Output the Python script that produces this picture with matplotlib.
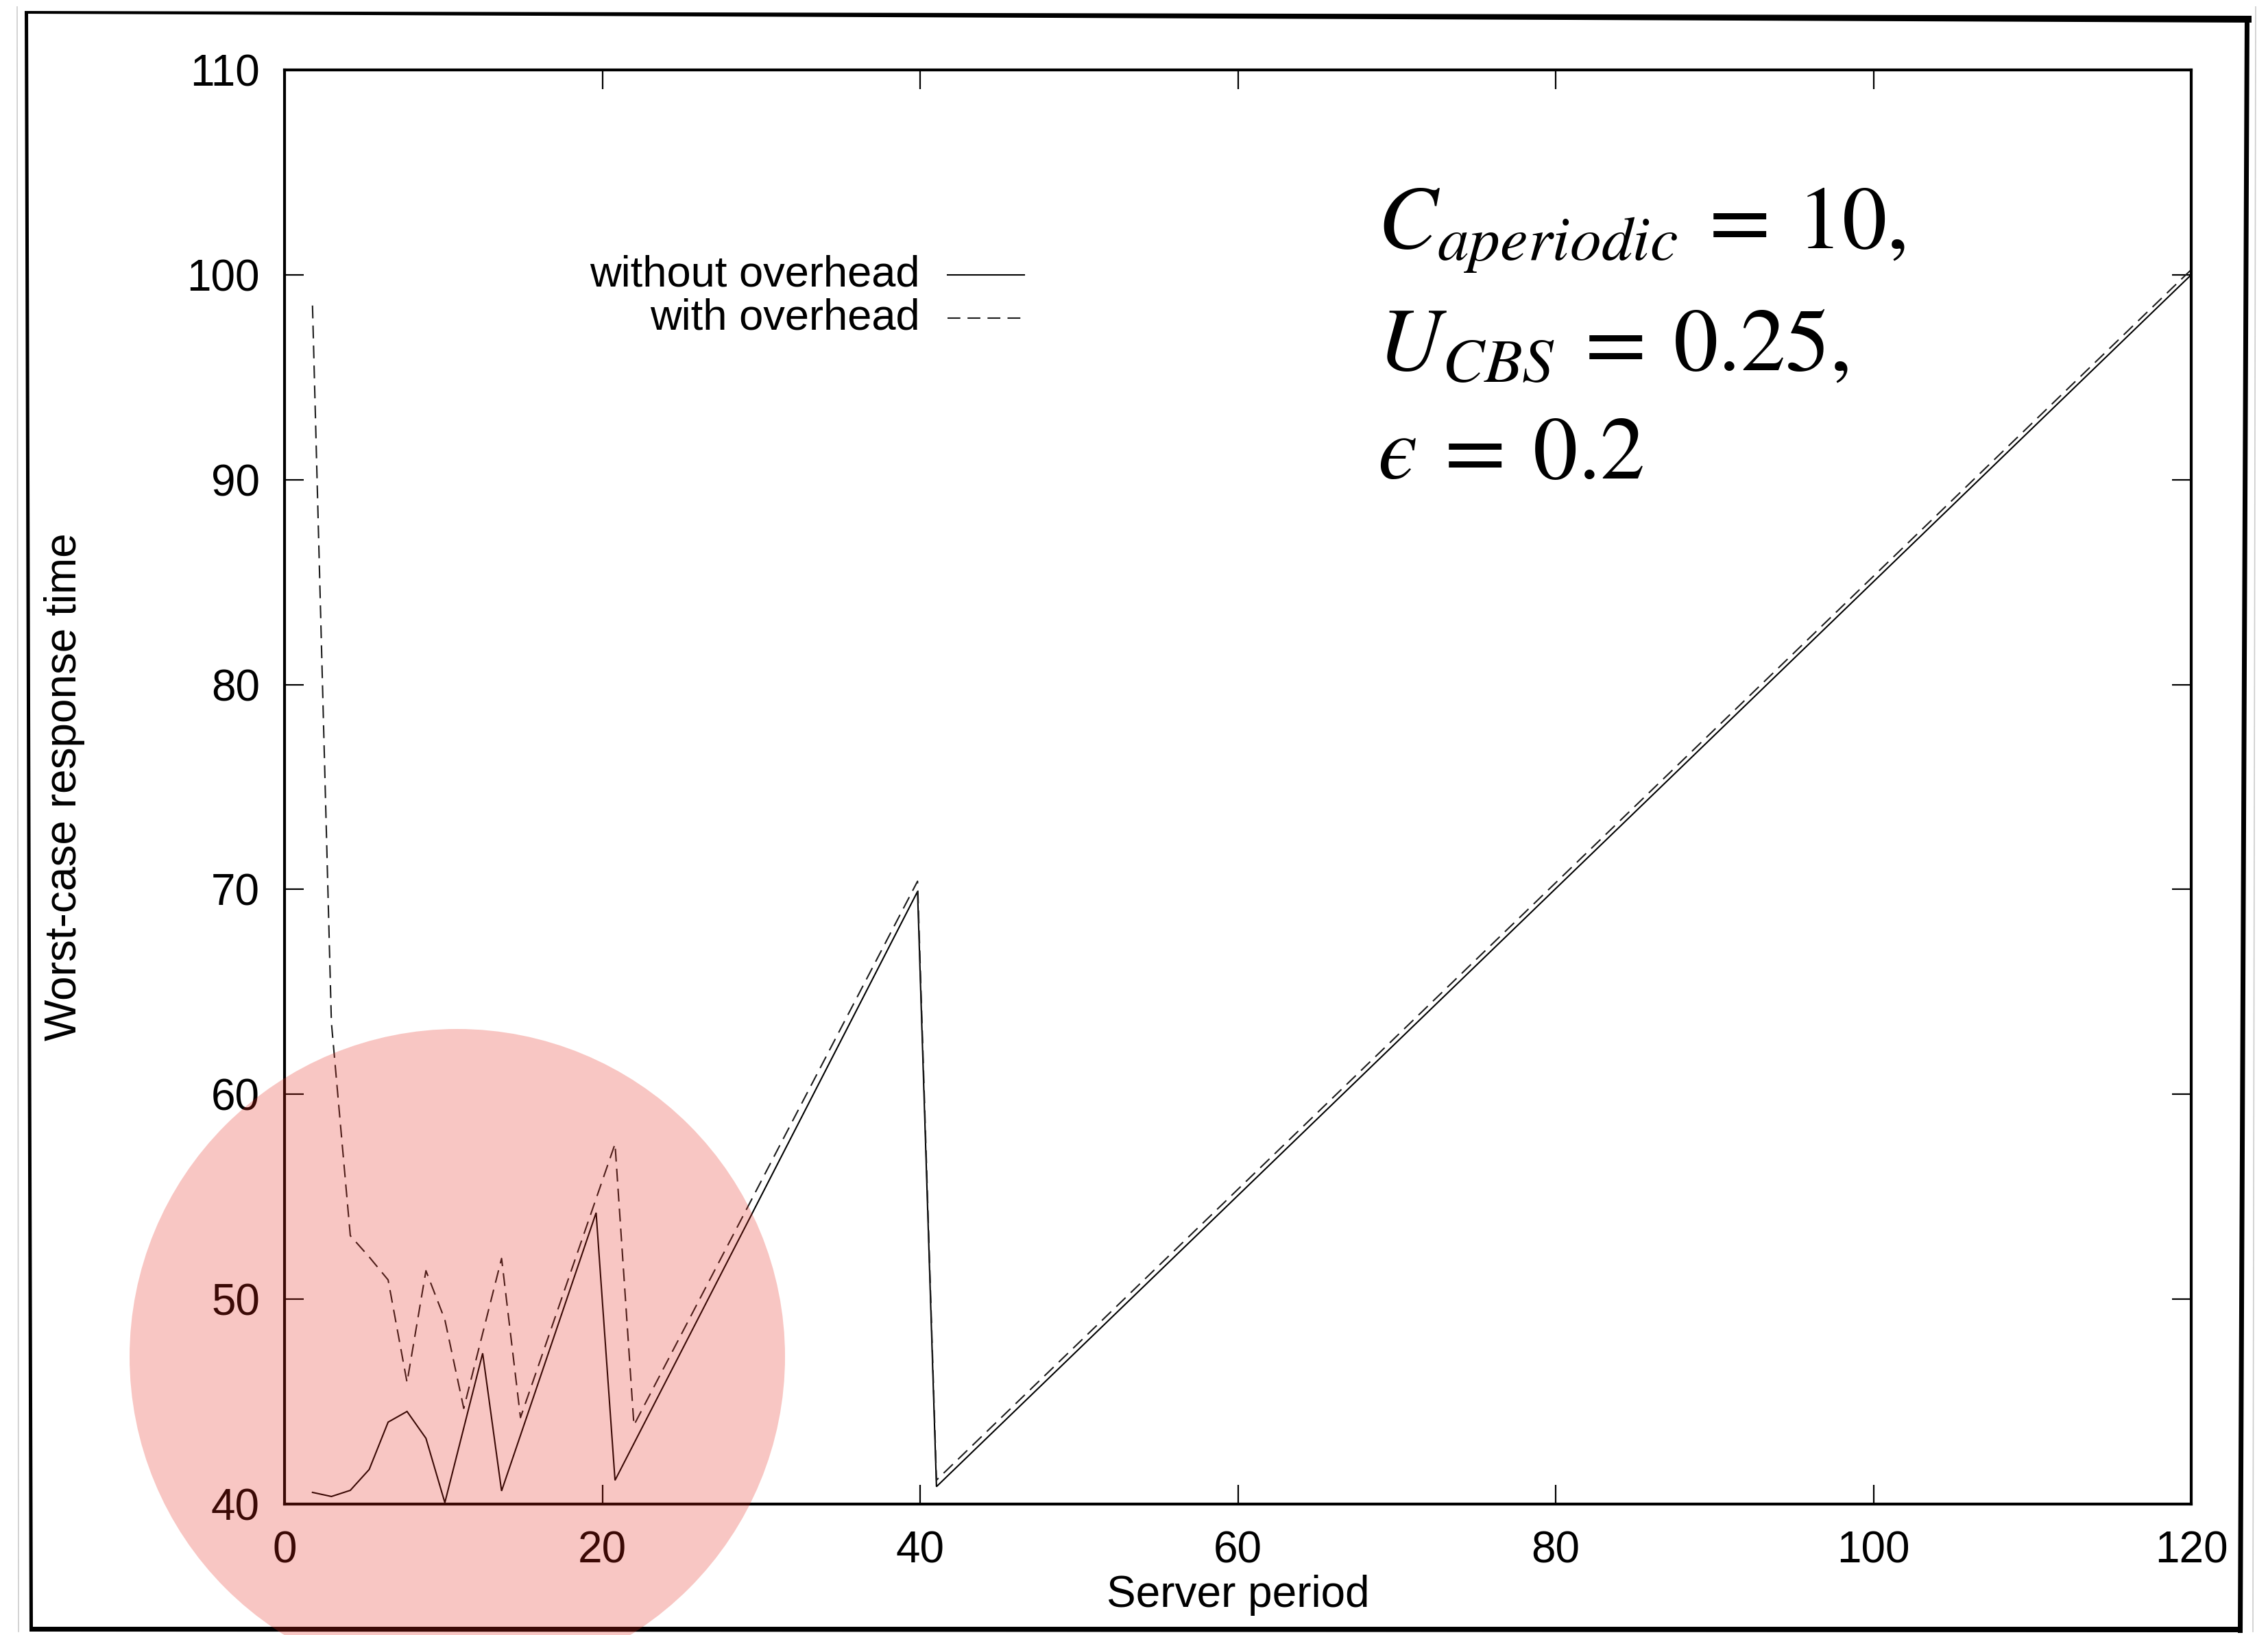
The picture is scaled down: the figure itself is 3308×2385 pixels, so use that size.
import matplotlib
matplotlib.use("Agg")
import matplotlib.pyplot as plt
from matplotlib.patches import Ellipse, Polygon
from matplotlib.lines import Line2D

# ---------------- data ----------------
period_without = [1.76, 2.95, 4.14, 5.33, 6.52, 7.71, 8.90, 10.09, 12.47, 13.66,
                  19.61, 20.80, 39.84, 41.03, 120.0]
resp_without = [40.57, 40.37, 40.67, 41.69, 44.0, 44.52, 43.21, 40.07, 47.36, 40.64,
                54.22, 41.16, 69.9, 40.85, 100.0]

period_with = [1.76, 2.95, 4.14, 5.33, 6.52, 7.71, 8.90, 10.09, 11.28, 13.66,
               14.85, 20.80, 21.99, 39.84, 41.03, 120.0]
resp_with = [98.5, 63.5, 53.1, 52.06, 50.94, 45.94, 51.39, 49.0, 44.67, 51.99,
             44.22, 57.58, 43.85, 70.4, 41.17, 100.25]

x_ticks = [0, 20, 40, 60, 80, 100, 120]
y_ticks = [40, 50, 60, 70, 80, 90, 100, 110]
series_labels = ["without overhead", "with overhead"]
annotation_lines = [r"$C_{aperiodic}\:=\:10,$", r"$U_{CBS}\:=\:0.25,$", "$\u03f5\\:=\\:0.2$"]

# ---------------- figure ----------------
W, H = 3308, 2385
fig = plt.figure(figsize=(W / 100, H / 100), dpi=100)
fig.patch.set_facecolor("white")
plt.rcParams["font.family"] = ["Liberation Sans", "DejaVu Sans"]
plt.rcParams["mathtext.fontset"] = "stix"

L, R, T, B = 415, 3196, 102, 2194
ax = fig.add_axes([L / W, 1 - B / H, (R - L) / W, (B - T) / H])

ax.plot(period_without, resp_without, color="black", lw=1.5, solid_joinstyle="miter")
ax.plot(period_with, resp_with, color="#1a1a1a", lw=1.5, dashes=(9, 5))

ax.set_xlim(0, 120)
ax.set_ylim(40, 110)
ax.set_xticks(x_ticks)
ax.set_yticks(y_ticks)
ax.tick_params(axis="both", which="both", direction="in", length=20, width=1.6,
               top=True, right=True, labelsize=46, color="black")
ax.tick_params(axis="x", pad=28)
ax.tick_params(axis="y", pad=26)
for s in ax.spines.values():
    s.set_linewidth(3)
    s.set_color("black")

ax.set_xlabel("Server period", fontsize=46)
ax.set_ylabel("Worst-case response time", fontsize=46)
ax.xaxis.set_label_coords(0.5, -0.049)
ax.yaxis.set_label_coords(-0.1045, 0.5)

# legend (text right-aligned, sample to the right)
leg_rows = [0.857, 0.827]
leg_styles = [dict(color="black", lw=1.5), dict(color="#1a1a1a", lw=1.5, dashes=(9, 5))]
for lab, yy, st in zip(series_labels, leg_rows, leg_styles):
    ax.text(0.3333, yy, lab, transform=ax.transAxes, ha="right", va="center", fontsize=45.5)
    ax.add_line(Line2D([0.3477, 0.388], [yy, yy], transform=ax.transAxes, **st))

# annotation
ann_x = (2009 - L) / (R - L)
ann_y = [(B - 363) / (B - T), (B - 540) / (B - T), (B - 698) / (B - T)]
for txt, yy in zip(annotation_lines, ann_y):
    ax.text(ann_x, yy, txt, transform=ax.transAxes, ha="left", va="baseline",
            fontsize=94, color="black")

# outer page frame
def fp(x, y):
    return (x / W, 1 - y / H)

frame_kw = dict(transform=fig.transFigure, closed=True, facecolor="black",
                edgecolor="none", zorder=5)
fig.add_artist(Polygon([fp(36, 16), fp(3284, 23), fp(3284, 33), fp(36, 20)], **frame_kw))
fig.add_artist(Polygon([fp(36, 16), fp(41, 16), fp(48, 2380), fp(43, 2380)], **frame_kw))
fig.add_artist(Polygon([fp(3274, 24), fp(3281, 24), fp(3271, 2382), fp(3264, 2382)], **frame_kw))
fig.add_artist(Polygon([fp(43, 2373), fp(3271, 2373), fp(3271, 2381), fp(43, 2380)], **frame_kw))
fig.add_artist(Line2D([25 / W, 27 / W], [1 - 10 / H, 1 - 2380 / H], transform=fig.transFigure,
                      color="#cccccc", lw=1.2, zorder=4))
fig.add_artist(Line2D([3290 / W, 3286 / W], [1 - 10 / H, 1 - 2380 / H], transform=fig.transFigure,
                      color="#cccccc", lw=1.2, zorder=4))

# translucent highlight circle
cx, cy, r = 667, 1979, 478
fig.add_artist(Ellipse(fp(cx, cy), 2 * r / W, 2 * r / H, transform=fig.transFigure,
                       facecolor=(0.90, 0.15, 0.09), alpha=0.26, edgecolor="none", zorder=10))

fig.savefig("out.png", dpi=100, facecolor="white")
